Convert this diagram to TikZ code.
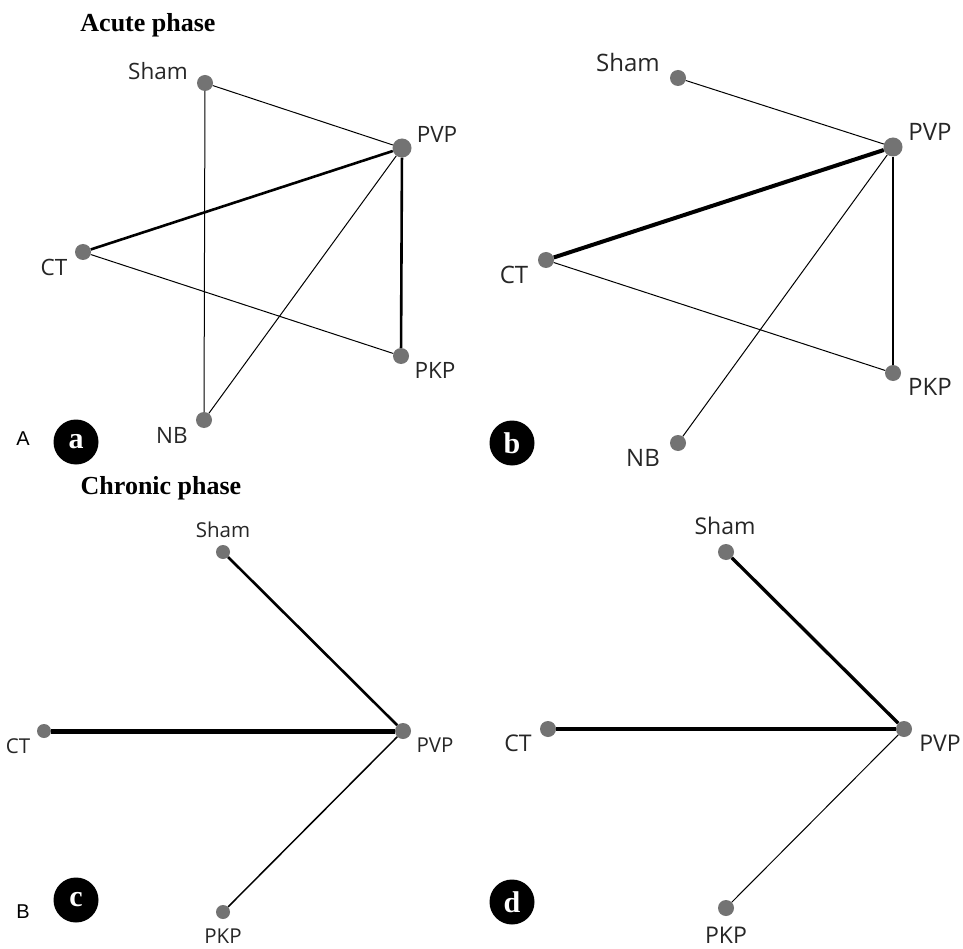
\documentclass[tikz,border=0pt]{standalone}
\usepackage{fontspec}
\setmainfont{Liberation Serif}
\newfontfamily\labfont{Open Sans}
\newfontfamily\arialfont{Liberation Sans}
\definecolor{dotgray}{HTML}{737373}
\definecolor{labgray}{HTML}{262626}
\begin{document}
\begin{tikzpicture}[x=1pt,y=-1pt,
  dot/.style={circle,fill=dotgray,inner sep=0pt,minimum size=16pt},
  bigdot/.style={dot,minimum size=19pt},
  smalldot/.style={dot,minimum size=14pt},
  lbl/.style={font=\labfont\fontsize{22.5}{22.5}\selectfont,text=labgray,inner sep=0pt},
  lblb/.style={font=\labfont\fontsize{24}{24}\selectfont,text=labgray,inner sep=0pt},
  lblc/.style={font=\labfont\fontsize{20.5}{20.5}\selectfont,text=labgray,inner sep=0pt},
  lbld/.style={font=\labfont\fontsize{23}{23}\selectfont,text=labgray,inner sep=0pt},
  thin/.style={line width=1pt,black},
  mid/.style={line width=2.6pt,black},
  heavy/.style={line width=4pt,black},
  badge/.style={circle,fill=black,minimum size=45pt,inner sep=0pt,text=white,font=\bfseries\fontsize{30}{30}\selectfont},
  title/.style={font=\bfseries\fontsize{26}{26}\selectfont,inner sep=0pt},
  panelletter/.style={font=\arialfont\fontsize{20}{20}\selectfont,inner sep=0pt}
]
\useasboundingbox (0,0) rectangle (963,949);
\fill[white] (0,0) rectangle (963,949);

% ---------- Panel a ----------
\node[title] (tA) at (148,25) {Acute phase};
\node[dot] (aSham) at (205,83) {};
\node[bigdot] (aPVP) at (402,148) {};
\node[dot] (aCT) at (83,252) {};
\node[dot] (aPKP) at (401,356) {};
\node[dot] (aNB) at (204,420) {};
\draw[thin] (aSham) -- (aPVP);
\draw[thin] (aSham) -- (aNB);
\draw[mid] (aCT) -- (aPVP);
\draw[thin] (aCT) -- (aPKP);
\draw[thin] (aNB) -- (aPVP);
\draw[mid] (aPVP) -- (aPKP);
\node[lbl] (aShamL) at (158,71) {Sham};
\node[lbl] (aPVPL) at (437,134) {PVP};
\node[lbl] (aCTL) at (54,267) {CT};
\node[lbl] (aPKPL) at (435,370) {PKP};
\node[lbl] (aNBL) at (172,435) {NB};
\node[panelletter] (pA) at (23,439) {A};
\node[badge] (ba) at (76,442) {a};

% ---------- Panel b ----------
\node[dot] (bSham) at (678,78) {};
\node[bigdot] (bPVP) at (893,147) {};
\node[dot] (bCT) at (546,260) {};
\node[dot] (bPKP) at (893,373) {};
\node[dot] (bNB) at (678,443) {};
\draw[thin] (bSham) -- (bPVP);
\draw[heavy] (bCT) -- (bPVP);
\draw[thin] (bCT) -- (bPKP);
\draw[thin] (bNB) -- (bPVP);
\draw[mid] (bPVP) -- (bPKP);
\node[lblb] (bShamL) at (628,63) {Sham};
\node[lblb] (bPVPL) at (930,132) {PVP};
\node[lblb] (bCTL) at (514,275) {CT};
\node[lblb] (bPKPL) at (930,387) {PKP};
\node[lblb] (bNBL) at (643,458) {NB};
\node[badge] (bb) at (512,443) {b};

% ---------- Panel c ----------
\node[title] (tB) at (161,488) {Chronic phase};
\node[smalldot] (cSham) at (223,552) {};
\node[dot] (cPVP) at (403,731) {};
\node[smalldot] (cCT) at (44,731) {};
\node[smalldot] (cPKP) at (223,912) {};
\draw[mid] (cSham) -- (cPVP);
\draw[line width=5pt] (cCT) -- (cPVP);
\draw[line width=1.5pt] (cPVP) -- (cPKP);
\node[lblc] (cShamL) at (223,530) {Sham};
\node[lblc] (cPVPL) at (435,745) {PVP};
\node[lblc] (cCTL) at (18,746) {CT};
\node[lblc] (cPKPL) at (223,936) {PKP};
\node[panelletter] (pB) at (23,912) {B};
\node[badge] (bc) at (76,900) {c};

% ---------- Panel d ----------
\node[dot] (dSham) at (726,552) {};
\node[dot] (dPVP) at (904,729) {};
\node[dot] (dCT) at (548,729) {};
\node[dot] (dPKP) at (726,908) {};
\draw[line width=3.3pt] (dSham) -- (dPVP);
\draw[heavy] (dCT) -- (dPVP);
\draw[thin] (dPVP) -- (dPKP);
\node[lbld] (dShamL) at (725,526) {Sham};
\node[lbld] (dPVPL) at (940,743) {PVP};
\node[lbld] (dCTL) at (518,743) {CT};
\node[lbld] (dPKPL) at (726,935) {PKP};
\node[badge] (bd) at (512,902) {d};
\end{tikzpicture}
\end{document}
